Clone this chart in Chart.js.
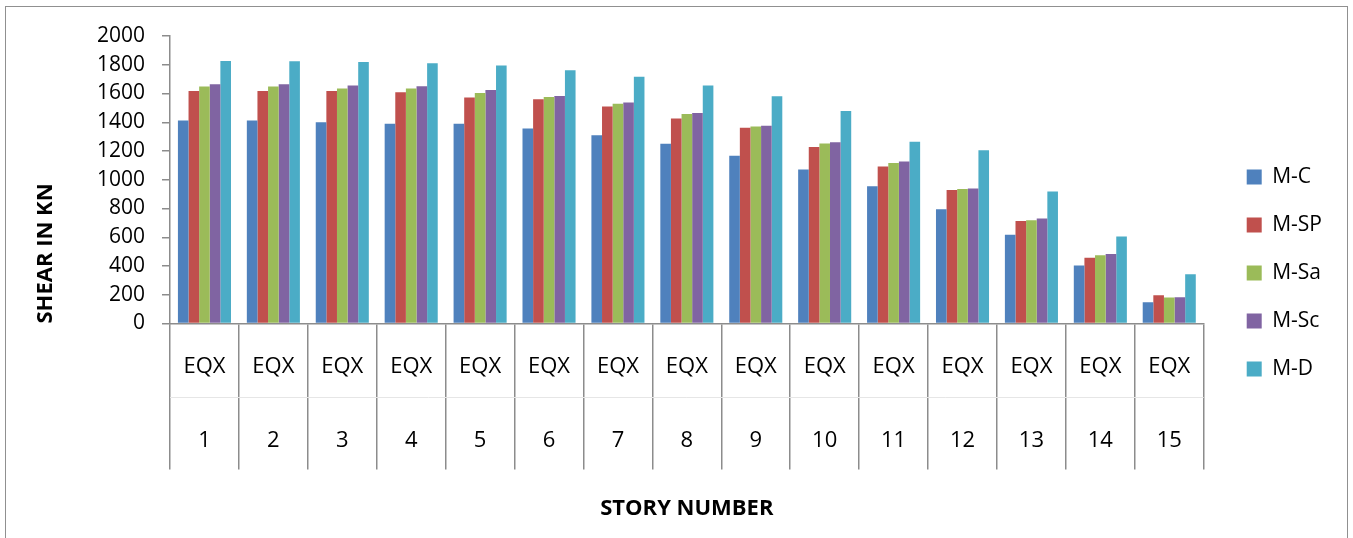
<!DOCTYPE html>
<html>
<head>
<meta charset="utf-8">
<script src="https://cdn.jsdelivr.net/npm/chart.js@4/dist/chart.umd.min.js"></script>
<style>
  body { margin: 0; background: #fff; }
  #wrap { position: relative; width: 1353px; height: 538px; overflow: hidden; }
  #frame { position: absolute; left: 5px; top: 6px; width: 1341px; height: 540px; border: 1.5px solid #909090; pointer-events: none; }
</style>
</head>
<body>
<div id="wrap">
  <canvas id="grafico" width="1353" height="538"></canvas>
  <div id="frame"></div>
</div>
<script>
// valores
const loads = ['EQX', 'EQX', 'EQX', 'EQX', 'EQX', 'EQX', 'EQX', 'EQX', 'EQX', 'EQX', 'EQX', 'EQX', 'EQX', 'EQX', 'EQX']
const stories = ['1', '2', '3', '4', '5', '6', '7', '8', '9', '10', '11', '12', '13', '14', '15']

const mC  = [1412, 1412, 1400, 1389, 1389, 1356, 1310, 1250, 1167, 1072, 954, 794, 618, 403, 148]
const mSP = [1618, 1618, 1618, 1608, 1572, 1560, 1509, 1426, 1361, 1227, 1093, 928, 713, 458, 197]
const mSa = [1648, 1648, 1634, 1634, 1604, 1576, 1528, 1458, 1370, 1252, 1116, 935, 718, 475, 181]
const mSc = [1664, 1664, 1655, 1650, 1625, 1583, 1537, 1465, 1375, 1261, 1127, 940, 731, 484, 183]
const mD  = [1826, 1824, 1819, 1810, 1794, 1761, 1717, 1655, 1581, 1479, 1264, 1206, 919, 606, 343]

const yTicks = [0, 200, 400, 600, 800, 1000, 1200, 1400, 1600, 1800, 2000]

const axisGray = '#8c8c8c'

Chart.defaults.font.family = "'Open Sans', sans-serif"
Chart.defaults.color = '#000'

// linha clara entre EQX e numero, e legenda um pouco para a direita
const extras = {
    id: 'extras',
    afterLayout(chart) {
        chart.legend.left += 16
        chart.legend.right += 16
    },
    afterDraw(chart) {
        const x = chart.scales.x
        const ctx = chart.ctx
        const y = Math.round(x.top + x.options.grid.tickLength / 2) + 0.5
        ctx.save()
        ctx.strokeStyle = '#e6e6e6'
        ctx.lineWidth = 1
        ctx.beginPath()
        ctx.moveTo(x.left, y)
        ctx.lineTo(x.right, y)
        ctx.stroke()
        ctx.restore()
    }
}

const series = [
    { label: 'M-C', data: mC, color: '#4F81BD' },
    { label: 'M-SP', data: mSP, color: '#C0504D' },
    { label: 'M-Sa', data: mSa, color: '#9BBB59' },
    { label: 'M-Sc', data: mSc, color: '#8064A2' },
    { label: 'M-D', data: mD, color: '#4BACC6' }
]

new Chart(document.getElementById('grafico'), {
    type: 'bar',
    data: {
        labels: loads.map((l, i) => [l, stories[i]]),
        datasets: series.map(s => ({
            label: s.label,
            data: s.data,
            backgroundColor: s.color,
            borderWidth: 0,
            categoryPercentage: 0.77,
            barPercentage: 1.0
        }))
    },
    options: {
        responsive: false,
        animation: false,
        devicePixelRatio: 1,
        layout: { padding: { top: 36, left: 12, right: 37, bottom: 28 } },
        plugins: {
            tooltip: { enabled: false },
            legend: {
                position: 'right',
                align: 'center',
                labels: {
                    boxWidth: 15,
                    boxHeight: 15,
                    padding: 27,
                    color: '#000',
                    font: { size: 21 }
                }
            }
        },
        scales: {
            x: {
                grid: {
                    offset: true,
                    drawOnChartArea: false,
                    drawTicks: true,
                    tickLength: 146,
                    color: axisGray,
                    lineWidth: 1.5
                },
                border: { color: axisGray, width: 1.5 },
                ticks: {
                    autoSkip: false,
                    maxRotation: 0,
                    padding: -139,
                    color: '#000',
                    font: { size: 22, lineHeight: 3.33 }
                },
                title: {
                    display: true,
                    text: 'STORY NUMBER',
                    color: '#000',
                    font: { size: 22, weight: 'bold' },
                    padding: { top: 0, bottom: -12 }
                },
                afterFit: s => { s.height = 186.5 }
            },
            y: {
                min: 0,
                max: 2000,
                afterBuildTicks: s => { s.ticks = yTicks.map(v => ({ value: v })) },
                grid: {
                    drawOnChartArea: false,
                    tickLength: 8,
                    color: axisGray,
                    lineWidth: 1.5
                },
                border: { color: axisGray, width: 1.5 },
                ticks: {
                    padding: 17,
                    color: '#000',
                    font: { size: 21 },
                    callback: v => String(v)
                },
                title: {
                    display: true,
                    text: 'SHEAR IN KN',
                    align: 'start',
                    color: '#000',
                    font: { size: 22, weight: 'bold' },
                    padding: { top: 21, bottom: 0 }
                },
                afterFit: s => { s.width = 158 }
            }
        }
    },
    plugins: [extras]
})
</script>
</body>
</html>
